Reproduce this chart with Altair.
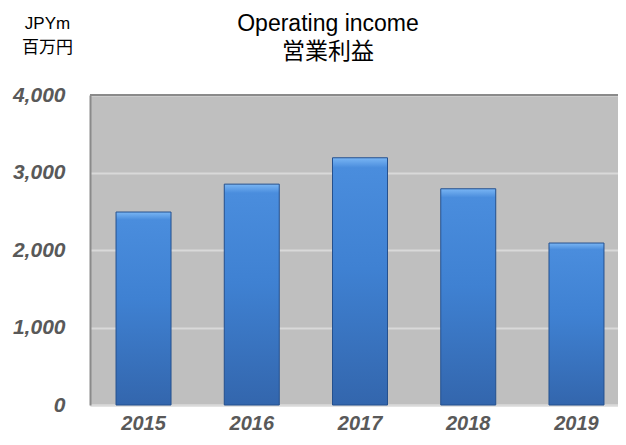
import altair as alt
import pandas as pd

years = ["2015", "2016", "2017", "2018", "2019"]
income = [2490, 2850, 3190, 2790, 2090]
y_ticks = [0, 1000, 2000, 3000, 4000]

df = pd.DataFrame({"year": years, "income": income})

FONT = "Liberation Sans, Arial, Noto Sans CJK JP, sans-serif"

gradient = alt.Gradient(
    gradient="linear",
    x1=0, x2=0, y1=0, y2=1,
    stops=[
        alt.GradientStop(color="#7ab6f4", offset=0),
        alt.GradientStop(color="#4a8ddd", offset=0.04),
        alt.GradientStop(color="#3f81d2", offset=0.45),
        alt.GradientStop(color="#3366ad", offset=1),
    ],
)

bars = (
    alt.Chart(df)
    .mark_bar(fill=gradient, stroke="#24508e", strokeWidth=1)
    .encode(
        x=alt.X(
            "year:N",
            sort=years,
            scale=alt.Scale(paddingInner=0.492, paddingOuter=0.185, align=0.65),
            axis=alt.Axis(
                title=None,
                labelAngle=0,
                labelFont=FONT,
                labelFontSize=20,
                labelFontWeight="bold",
                labelFontStyle="italic",
                labelColor="#595959",
                labelPadding=8,
                ticks=False,
                domainColor="#d9d9d9",
                domainWidth=2,
            ),
        ),
        y=alt.Y(
            "income:Q",
            scale=alt.Scale(domain=[0, 4000], nice=False),
            axis=alt.Axis(
                values=y_ticks,
                format=",d",
                title=["JPYm", "百万円"],
                titleAngle=0,
                titleX=-43,
                titleY=-80,
                titleAlign="center",
                titleBaseline="top",
                titleFont=FONT,
                titleFontSize=17,
                titleFontWeight="normal",
                titleLineHeight=24,
                titleColor="#000000",
                labelFont=FONT,
                labelFontSize=21,
                labelFontWeight="bold",
                labelFontStyle="italic",
                labelColor="#595959",
                labelPadding=25,
                ticks=False,
                domain=True,
                domainColor="#8a8a8a",
                domainWidth=2,
                gridColor="#d9d9d9",
                gridWidth=2,
            ),
        ),
    )
)

top_border = (
    alt.Chart(df)
    .mark_rule(color="#8a8a8a", strokeWidth=2)
    .encode(y=alt.datum(4000))
)

chart = (
    alt.layer(bars, top_border)
    .properties(
        width=528,
        height=310,
        autosize=alt.AutoSizeParams(type="none"),
        padding={"left": 82, "top": 87, "right": 0, "bottom": 27},
        background="white",
        title=alt.TitleParams(
            text=["Operating income", "営業利益"],
            font=FONT,
            fontSize=23,
            fontWeight="normal",
            color="#000000",
            anchor="middle",
            dx=-26,
            offset=-50,
            lineHeight=28,
        ),
    )
    .configure_view(fill="#bfbfbf", stroke=None)
)

chart.save("out.html", embed_options={"renderer": "svg", "actions": False})
